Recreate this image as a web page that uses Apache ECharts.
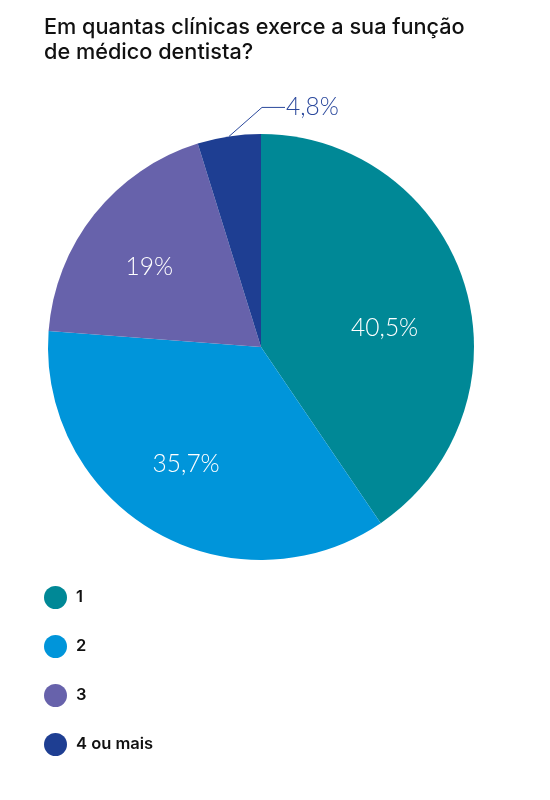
<!DOCTYPE html>
<html>
<head>
<meta charset="utf-8">
<script src="https://cdn.jsdelivr.net/npm/echarts@6/dist/echarts.min.js"></script>
<style>
html,body{margin:0;padding:0;background:#fff;}
#chart{width:550px;height:800px;}
</style>
</head>
<body>
<div id="chart"></div>
<script>
const titleText = 'Em quantas clínicas exerce a sua função\nde médico dentista?';
const categories = ['1', '2', '3', '4 ou mais'];
const values = [40.5, 35.7, 19, 4.8];
const valueLabels = ['40,5%', '35,7%', '19%', '4,8%'];
const colors = ['#008896', '#0095DA', '#6762AB', '#1E3E92'];

const chart = echarts.init(document.getElementById('chart'), null, {renderer: 'canvas'});

// manual nudges of inside labels (relative to default inside position)
const labelShift = [[19, 13], [-20, 22], [-26, -12], [0, 0]];

const data = categories.map((c, i) => {
  const d = {name: c, value: values[i], itemStyle: {color: colors[i]}};
  if (i === 3) {
    d.label = {position: 'outside', color: '#2A489C'};
    d.labelLine = {show: true, lineStyle: {color: '#2A489C', width: 1}};
  } else {
    d.label = {position: 'inside', color: '#ffffff'};
    d.labelLine = {show: false};
  }
  return d;
});

chart.setOption({
  animation: false,
  title: {
    text: titleText,
    left: 39,
    top: 10,
    textStyle: {
      fontFamily: 'Inter',
      fontSize: 21.7,
      fontWeight: 500,
      lineHeight: 25,
      color: '#111111'
    }
  },
  legend: {
    orient: 'vertical',
    left: 39,
    top: 581,
    icon: 'circle',
    itemWidth: 23,
    itemHeight: 23,
    itemGap: 26,
    selectedMode: false,
    textStyle: {
      fontFamily: 'Inter',
      fontSize: 16.5,
      fontWeight: 600,
      color: '#111111',
      padding: [0, 0, 0, 4]
    },
    data: categories
  },
  series: [{
    type: 'pie',
    center: [261, 347],
    radius: [0, 213],
    startAngle: 90,
    clockwise: true,
    avoidLabelOverlap: false,
    silent: true,
    itemStyle: {borderWidth: 0},
    label: {
      show: true,
      fontFamily: 'Lato',
      fontSize: 24.5,
      fontWeight: 300,
      formatter: p => valueLabels[p.dataIndex]
    },
    data: data
  }]
});

chart.setOption({
  series: [{
    labelLayout: function (params) {
      const i = params.dataIndex;
      if (i === 3 && params.labelLinePoints) {
        const p0 = params.labelLinePoints[0];
        const p1 = [p0[0] + 33, p0[1] - 29];
        const p2 = [p1[0] + 23, p1[1]];
        return {
          x: p2[0] + 1,
          y: p2[1],
          align: 'left',
          verticalAlign: 'middle',
          labelLinePoints: [p0, p1, p2]
        };
      }
      return {dx: labelShift[i][0], dy: labelShift[i][1]};
    }
  }]
});
</script>
</body>
</html>
